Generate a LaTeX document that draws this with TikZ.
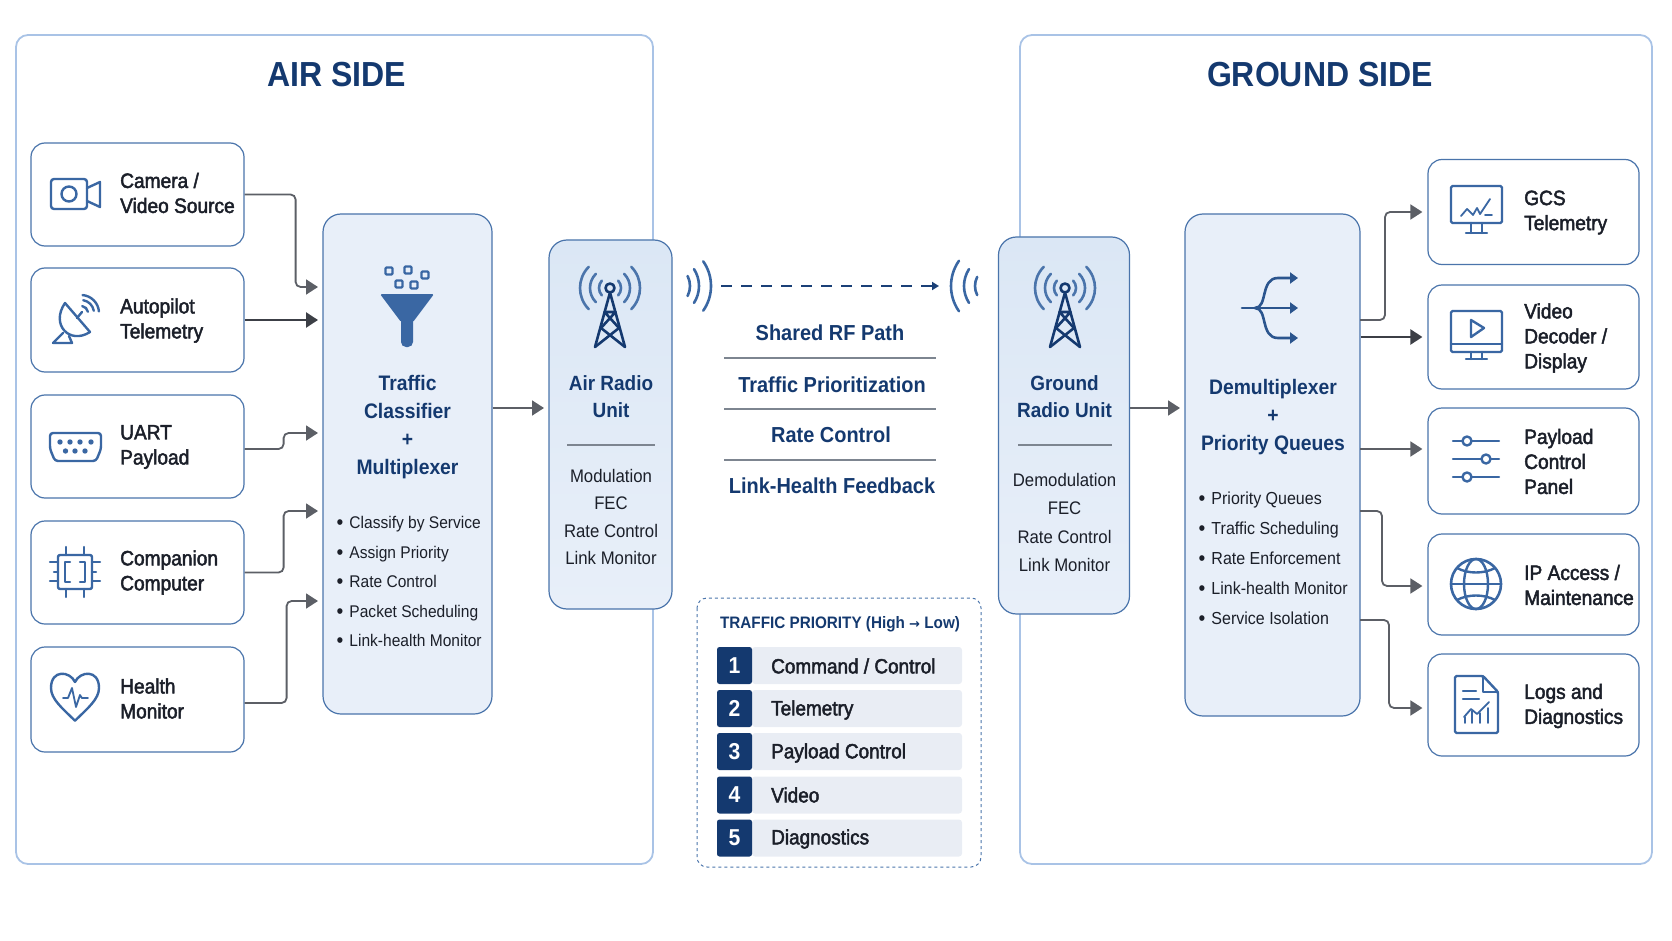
\documentclass[tikz,border=0pt]{standalone}
\usepackage{fontspec}
\setmainfont[FakeStretch=0.92]{Liberation Sans}
\newfontfamily\medfont[FakeBold=2.2,FakeStretch=0.92]{Liberation Sans}
\newfontfamily\arrowfont{DejaVu Sans}
\usetikzlibrary{arrows.meta}
\definecolor{framecol}{HTML}{A9C3E6}
\definecolor{boxcol}{HTML}{4A74AB}
\definecolor{iconcol}{HTML}{3A67A3}
\definecolor{navycol}{HTML}{14396F}
\definecolor{panelcol}{HTML}{E8EFF9}
\definecolor{radiotop}{HTML}{DBE7F5}
\definecolor{rowcol}{HTML}{E9EDF4}
\definecolor{flowcol}{HTML}{5C5F66}
\definecolor{flowdark}{HTML}{3C3F46}
\definecolor{inkcol}{HTML}{1B1F29}
\definecolor{rulecol}{HTML}{7D8590}
\newcommand{\listdot}{\raisebox{-1.2pt}{\fontsize{21}{21}\selectfont\textbullet}\hspace{6pt}}
\tikzset{
  sideframe/.style={draw=framecol, line width=1.8pt, rounded corners=12pt},
  srcbox/.style={rectangle, draw=boxcol, fill=white, line width=1.2pt, rounded corners=14pt, minimum width=213pt, inner sep=0pt},
  panel/.style={rectangle, draw=boxcol, fill=panelcol, line width=1.2pt, rounded corners=18pt, inner sep=0pt},
  radiopanel/.style={panel, top color=radiotop, bottom color=panelcol},
  sidetitle/.style={navycol, font=\bfseries\fontsize{34.8}{38}\selectfont, inner sep=0pt},
  srctext/.style={inkcol, anchor=west, align=left, inner sep=0pt, font=\medfont\fontsize{20.8}{25}\selectfont},
  headtext/.style={navycol, align=center, inner sep=0pt, font=\bfseries\fontsize{21}{28}\selectfont},
  listtext/.style={inkcol, anchor=west, align=left, inner sep=0pt},
  linktext/.style={navycol, inner sep=0pt, font=\bfseries\fontsize{21.7}{24}\selectfont},
  numbox/.style={rectangle, fill=navycol, text=white, rounded corners=2.5pt, minimum width=35pt, minimum height=37pt, inner sep=0pt, font=\bfseries\fontsize{23}{24}\selectfont},
  rowbar/.style={rectangle, fill=rowcol, rounded corners=3pt, minimum width=210pt, minimum height=37pt, inner sep=0pt},
  rowtext/.style={inkcol, anchor=west, inner sep=0pt, font=\medfont\fontsize{20.6}{24}\selectfont},
  flow/.style={-{Triangle[length=12pt,width=15pt]}, draw=flowcol, line width=1.8pt, rounded corners=5pt, shorten >=5pt},
  flowstrong/.style={flow, draw=flowdark, line width=2.4pt},
  icon/.style={draw=iconcol, line width=2.4pt, line join=round, line cap=round},
  wave/.style={draw=iconcol, line width=2.6pt, line cap=round},
  towerline/.style={draw=navycol, line width=2.6pt, line join=round, line cap=round},
  rule/.style={draw=rulecol, line width=1.2pt},
  tower/.pic={
    \draw[towerline] (0,0) circle (4.5);
    \draw[towerline] (-15,59) -- (0,4.5) -- (15,59);
    \draw[towerline] (-5.5,24) -- (5.5,24) (-5.5,24) -- (9,40) -- (-15,59) (5.5,24) -- (-9,40) -- (15,59);
    \draw[wave, draw=boxcol] (0,0) ++(-42:11) arc (-42:42:11) (0,0) ++(138:11) arc (138:222:11);
    \draw[wave, draw=boxcol] (0,0) ++(-45:20) arc (-45:45:20) (0,0) ++(135:20) arc (135:225:20);
    \draw[wave, draw=boxcol] (0,0) ++(-45:30) arc (-45:45:30) (0,0) ++(135:30) arc (135:225:30);
  },
}
\begin{document}
\begin{tikzpicture}[x=1pt,y=-1pt]
\useasboundingbox (0,0) rectangle (1672,941);
\draw[sideframe] (16,35) rectangle (653,864);
\draw[sideframe] (1020,35) rectangle (1652,864);
\node[sidetitle] (airtitle) at (337,75) {AIR SIDE};
\node[sidetitle] (groundtitle) at (1320,75) {GROUND SIDE};

\node[srcbox, minimum height=103pt] (camera) at (137.5,194.5) {};
\node[srcbox, minimum height=104pt] (autopilot) at (137.5,320) {};
\node[srcbox, minimum height=103pt] (uart) at (137.5,446.5) {};
\node[srcbox, minimum height=103pt] (companion) at (137.5,572.5) {};
\node[srcbox, minimum height=105pt] (health) at (137.5,699.5) {};
\node[srctext] (cameratext) at (120,193) {Camera /\\Video Source};
\node[srctext] (autopilottext) at (120,320.5) {Autopilot\\Telemetry};
\node[srctext] (uarttext) at (120,447) {UART\\Payload};
\node[srctext] (companiontext) at (120,572.5) {Companion\\Computer};
\node[srctext] (healthtext) at (120,698.5) {Health\\Monitor};

\draw[icon] (51,179) [rounded corners=3pt] rectangle (87,209);
\draw[icon] (69,194) circle (7.5);
\draw[icon] (87,188) -- (100,182) -- (100,207) -- (87,201);

\draw[icon] (65,303) .. controls (50,325) and (70,345) .. (90,332) -- cycle;
\draw[icon] (53,343) -- (63,333) (53,343) -- (72,343) -- (69,336);
\draw[icon] (77,318) -- (82,312);
\draw[icon] (81,313) ++(-80:7) arc (-80:-10:7);
\draw[icon] (81,313) ++(-80:13) arc (-80:-10:13);
\draw[icon] (81,313) ++(-85:18) arc (-85:-5:18);

\draw[icon, rounded corners=3pt] (50,433) -- (101,433) -- (101,449) -- (96,461) -- (55,461) -- (50,449) -- cycle;
\fill[iconcol] (60,442) circle (2.7) (70,442) circle (2.7) (80,442) circle (2.7) (91,442) circle (2.7);
\fill[iconcol] (65.5,451) circle (2.7) (75,451) circle (2.7) (85,451) circle (2.7);

\draw[icon, rounded corners=2pt] (58,555) rectangle (92,589);
\draw[icon] (70,562) -- (65,562) -- (65,582) -- (70,582) (80,562) -- (85,562) -- (85,582) -- (80,582);
\draw[icon] (66,547) -- (66,555) (84,547) -- (84,555) (66,589) -- (66,597) (84,589) -- (84,597);
\draw[icon] (50,562) -- (58,562) (54,572) -- (58,572) (50,581) -- (58,581);
\draw[icon] (92,562) -- (100,562) (92,572) -- (96,572) (92,581) -- (100,581);

\draw[icon] (75,720.7) .. controls (62,708) and (51,699) .. (51,688) .. controls (51,669) and (70,671) .. (75,682) .. controls (80,671) and (99,669) .. (99,688) .. controls (99,699) and (88,708) .. (75,720.7) -- cycle;
\draw[icon, line width=1.8pt] (63,698) -- (68,698) -- (72,688) -- (76,707) -- (80,695) -- (82,698) -- (88,698);

\node[panel, minimum width=169pt, minimum height=500pt] (classifier) at (407.5,464) {};
\fill[iconcol, rounded corners=1.5pt] (380,294) -- (434,294) -- (413,322) -- (401,322) -- cycle;
\fill[iconcol, rounded corners=5pt] (401,315) rectangle (413,347);
\draw[icon, rounded corners=1pt] (385.5,267.5) rectangle +(7,7);
\draw[icon, rounded corners=1pt] (404.5,266.5) rectangle +(7,7);
\draw[icon, rounded corners=1pt] (421.5,271.5) rectangle +(7,7);
\draw[icon, rounded corners=1pt] (395.5,280.5) rectangle +(7,7);
\draw[icon, rounded corners=1pt] (410.5,281.5) rectangle +(7,7);
\node[headtext] (classifierhead) at (407.5,427) {Traffic\\Classifier\\+\\Multiplexer};
\node[listtext, font=\fontsize{16.9}{29.5}\selectfont] (classifierlist) at (336.5,582) {\listdot Classify by Service\\\listdot Assign Priority\\\listdot Rate Control\\\listdot Packet Scheduling\\\listdot Link-health Monitor};

\coordinate (clsa) at (323,287);
\coordinate (clsb) at (323,320);
\coordinate (clsc) at (323,433);
\coordinate (clsd) at (323,511);
\coordinate (clse) at (323,601);
\draw[flow] (camera.east) -- ++(51,0) |- (clsa);
\draw[flowstrong] (autopilot.east) -- (clsb);
\draw[flow] ([yshift=-2.5pt]uart.east) -- ++(39,0) |- (clsc);
\draw[flow] (companion.east) -- ++(39,0) |- (clsd);
\draw[flow] ([yshift=-3.5pt]health.east) -- ++(42,0) |- (clse);

\node[radiopanel, minimum width=123pt, minimum height=369pt] (airradio) at (610.5,424.5) {};
\pic at (610,288) {tower};
\node[headtext, font=\bfseries\fontsize{20.6}{27}\selectfont] (airhead) at (611,397) {Air Radio\\Unit};
\draw[rule] (567,445) -- (655,445);
\node[inkcol, align=center, inner sep=0pt, font=\fontsize{18.2}{27.5}\selectfont] (airlist) at (611,517) {Modulation\\FEC\\Rate Control\\Link Monitor};
\coordinate (airin) at (549,408);
\draw[flow] (airin -| classifier.east) -- (airin);

\draw[wave] (668,286) ++(-27:22) arc (-27:27:22);
\draw[wave] (668,286) ++(-33:31) arc (-33:33:31);
\draw[wave] (668,286) ++(-35:43) arc (-35:35:43);
\coordinate (rfstart) at (721,286);
\coordinate (rfend) at (939,286);
\draw[draw=navycol!85!iconcol, line width=2.4pt, dash pattern=on 11pt off 9pt, -{Triangle[length=7pt,width=8pt]}] (rfstart) -- (rfend);
\draw[wave] (995,286) ++(153:20) arc (153:207:20);
\draw[wave] (995,286) ++(147:31) arc (147:213:31);
\draw[wave] (995,286) ++(145:44) arc (145:215:44);

\node[linktext] (rfpath) at (830,333) {Shared RF Path};
\draw[rule] (724,358) -- (936,358);
\node[linktext] (prio) at (832,385) {Traffic Prioritization};
\draw[rule] (724,409) -- (936,409);
\node[linktext] (rate) at (831,435) {Rate Control};
\draw[rule] (724,460) -- (936,460);
\node[linktext] (feedback) at (832,486) {Link-Health Feedback};

\draw[draw=boxcol, line width=1pt, dashed, rounded corners=10pt] (697,598) rectangle (981,867);
\node[navycol, inner sep=0pt, font=\bfseries\fontsize{16.6}{18}\selectfont] (prioritytitle) at (840,624.5) {TRAFFIC PRIORITY (High {\arrowfont\fontsize{13}{18}\selectfont →} Low)};
\node[rowbar] (rowa) at (857,665.5) {};
\node[rowbar] (rowb) at (857,708.5) {};
\node[rowbar] (rowc) at (857,751.5) {};
\node[rowbar] (rowd) at (857,795) {};
\node[rowbar] (rowe) at (857,838) {};
\node[numbox] (numa) at (734.5,665.5) {1};
\node[numbox] (numb) at (734.5,708.5) {2};
\node[numbox] (numc) at (734.5,751.5) {3};
\node[numbox] (numd) at (734.5,795) {4};
\node[numbox] (nume) at (734.5,838) {5};
\node[rowtext] (rowatext) at (771,666) {Command / Control};
\node[rowtext] (rowbtext) at (771,710) {Telemetry};
\node[rowtext] (rowctext) at (771,753) {Payload Control};
\node[rowtext] (rowdtext) at (771,795) {Video};
\node[rowtext] (rowetext) at (771,839) {Diagnostics};

\node[radiopanel, minimum width=131pt, minimum height=377pt] (groundradio) at (1064,425.5) {};
\pic at (1065,288) {tower};
\node[headtext, font=\bfseries\fontsize{20.6}{27}\selectfont] (groundhead) at (1064.5,397) {Ground\\Radio Unit};
\draw[rule] (1018,445) -- (1112,445);
\node[inkcol, align=center, inner sep=0pt, font=\fontsize{18.2}{28.3}\selectfont] (groundlist) at (1064.5,522.5) {Demodulation\\FEC\\Rate Control\\Link Monitor};

\node[panel, minimum width=175pt, minimum height=502pt] (demux) at (1272.5,465) {};
\draw[towerline, -{Triangle[length=8pt,width=11pt]}, draw=iconcol!60!navycol] (1242,308) -- (1298,308);
\draw[towerline, -{Triangle[length=8pt,width=11pt]}, draw=iconcol!60!navycol] (1255,308) .. controls (1268,308) and (1260,278) .. (1278,278) -- (1298,278);
\draw[towerline, -{Triangle[length=8pt,width=11pt]}, draw=iconcol!60!navycol] (1255,308) .. controls (1268,308) and (1260,338) .. (1278,338) -- (1298,338);
\node[headtext] (demuxhead) at (1273,417) {Demultiplexer\\+\\Priority Queues};
\node[listtext, font=\fontsize{17.4}{30}\selectfont] (demuxlist) at (1198.5,559) {\listdot Priority Queues\\\listdot Traffic Scheduling\\\listdot Rate Enforcement\\\listdot Link-health Monitor\\\listdot Service Isolation};

\coordinate (groundin) at (1185,408);
\draw[flow] (groundin -| groundradio.east) -- (groundin);

\node[srcbox, minimum width=211pt, minimum height=105pt] (gcs) at (1533.5,212) {};
\node[srcbox, minimum width=211pt, minimum height=104pt] (video) at (1533.5,337) {};
\node[srcbox, minimum width=211pt, minimum height=106pt] (payload) at (1533.5,461) {};
\node[srcbox, minimum width=211pt, minimum height=101pt] (ipaccess) at (1533.5,584.5) {};
\node[srcbox, minimum width=211pt, minimum height=102pt] (logs) at (1533.5,705) {};
\node[srctext] (gcstext) at (1524,212.5) {GCS\\Telemetry};
\node[srctext] (videotext) at (1524,338) {Video\\Decoder /\\Display};
\node[srctext] (payloadtext) at (1524,461.5) {Payload\\Control\\Panel};
\node[srctext] (ipaccesstext) at (1524,585) {IP Access /\\Maintenance};
\node[srctext] (logstext) at (1524,706) {Logs and\\Diagnostics};

\coordinate (dmxa) at (1360,320);
\coordinate (dmxc) at (1360,449);
\coordinate (dmxd) at (1360,511);
\coordinate (dmxe) at (1360,620);
\draw[flow] (dmxa) -- ++(25,0) |- (gcs.west);
\draw[flowstrong] (video.west -| demux.east) -- (video.west);
\draw[flow] (dmxc) -- (dmxc -| payload.west);
\draw[flow] (dmxd) -- ++(22,0) |- ([yshift=-1.5pt]ipaccess.west);
\draw[flow] (dmxe) -- ++(29,0) |- ([yshift=-3pt]logs.west);

\draw[icon, rounded corners=1.5pt] (1451,186) rectangle (1502,223);
\draw[icon] (1471,223) -- (1471,233) (1482,223) -- (1482,233) (1466,233) -- (1487,233);
\draw[icon, line width=1.8pt] (1461,216) -- (1467,209) -- (1473,215) -- (1477,208) -- (1480,214) -- (1490,199) (1485,215) -- (1492,215);

\draw[icon, rounded corners=1.5pt] (1451,311) rectangle (1502,352);
\draw[icon] (1451,344) -- (1502,344);
\draw[icon] (1471,320) -- (1484,328) -- (1471,337) -- cycle;
\draw[icon] (1471,352) -- (1471,359) (1482,352) -- (1482,359) (1466,359) -- (1487,359);

\draw[icon] (1453,441) -- (1499,441) (1453,459) -- (1499,459) (1453,477) -- (1499,477);
\filldraw[icon, fill=white] (1467,441) circle (4.5);
\filldraw[icon, fill=white] (1486,459) circle (4.5);
\filldraw[icon, fill=white] (1467,477) circle (4.5);

\draw[icon, line width=2.6pt] (1476,584) circle (25);
\draw[icon] (1476,584) ellipse (12 and 25);
\draw[icon] (1451,584) -- (1501,584);
\draw[icon] (1457,568) .. controls (1468,574) and (1484,574) .. (1495,568);
\draw[icon] (1457,600) .. controls (1468,594) and (1484,594) .. (1495,600);

\draw[icon, rounded corners=1.5pt] (1455,676) -- (1483,676) -- (1498,692) -- (1498,733) -- (1455,733) -- cycle;
\draw[icon] (1483,676) -- (1483,692) -- (1498,692);
\draw[icon] (1463,691) -- (1476,691) (1463,699) -- (1479,699);
\draw[icon, line width=1.8pt] (1464,717) -- (1471,709) -- (1477,714) -- (1489,702);
\draw[icon, line width=1.8pt] (1465,723) -- (1465,717) (1472,723) -- (1472,711) (1480,723) -- (1480,713) (1488,723) -- (1488,708);
\end{tikzpicture}
\end{document}
